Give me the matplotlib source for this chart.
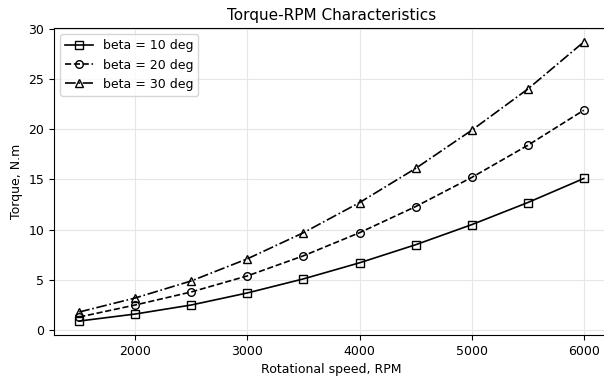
import numpy as np
import matplotlib.pyplot as plt

# Data
rpm = [1500, 2000, 2500, 3000, 3500, 4000, 4500, 5000, 5500, 6000]
torque_b10 = [0.9, 1.6, 2.5, 3.7, 5.1, 6.7, 8.5, 10.5, 12.7, 15.1]
torque_b20 = [1.3, 2.5, 3.8, 5.4, 7.4, 9.7, 12.3, 15.2, 18.4, 21.9]
torque_b30 = [1.8, 3.2, 4.9, 7.1, 9.7, 12.7, 16.1, 19.9, 24.0, 28.7]
labels = ['beta = 10 deg', 'beta = 20 deg', 'beta = 30 deg']

fig = plt.figure(figsize=(6.04, 3.77), dpi=100)
ax = fig.add_axes([54 / 604, 42 / 377, 555 / 604, 307 / 377])

ax.plot(rpm, torque_b10, '-', marker='s', color='black', mfc='none',
        ms=5.5, lw=1.2, label=labels[0])
ax.plot(rpm, torque_b20, '--', marker='o', color='black', mfc='none',
        ms=5.5, lw=1.2, label=labels[1])
ax.plot(rpm, torque_b30, '-.', marker='^', color='black', mfc='none',
        ms=5.5, lw=1.2, label=labels[2])

ax.set_title('Torque-RPM Characteristics', fontsize=11)
ax.set_xlabel('Rotational speed, RPM', fontsize=9)
ax.set_ylabel('Torque, N.m', fontsize=9)
ax.tick_params(labelsize=9)
ax.set_yticks([0, 5, 10, 15, 20, 25, 30])
ax.grid(True, color='#e6e6e6', lw=0.8)
ax.legend(loc='upper left', fontsize=9, handlelength=2.2)

fig.savefig('out.png', dpi=100)
